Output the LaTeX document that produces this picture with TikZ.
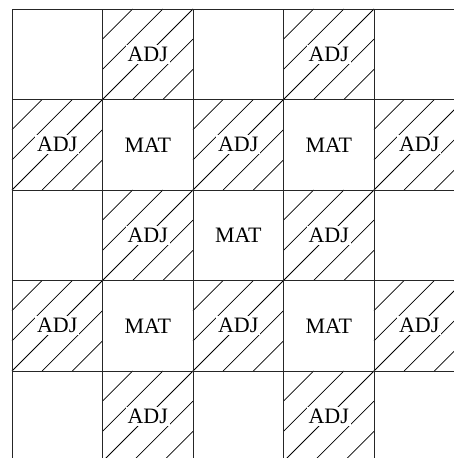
\documentclass[tikz,border=0pt]{standalone}
\usepackage{fontspec}
\setmainfont{Liberation Serif}
\begin{document}
\begin{tikzpicture}[x=1pt,y=-1pt,
  hatch/.style={line width=0.8pt, black},
  gridline/.style={line width=0.9pt, black!85},
  lab/.style={fill=white, inner sep=2pt, font=\fontsize{22}{26}\selectfont}]
\useasboundingbox (0,0) rectangle (454,458);
\clip (0,0) rectangle (454,458);
\def\s{90.5}
% hatched ADJ cells
\foreach \r/\c in {0/1,0/3,1/0,1/2,1/4,2/1,2/3,3/0,3/2,3/4,4/1,4/3} {
  \pgfmathsetmacro\X{12+\c*\s}
  \pgfmathsetmacro\Y{9+\r*\s}
  \foreach \k in {1,2,3} {
    \draw[hatch] (\X,{\Y+\k*\s/3}) -- ({\X+\k*\s/3},\Y);
  }
  \foreach \k in {1,2} {
    \draw[hatch] ({\X+\k*\s/3},{\Y+\s}) -- ({\X+\s},{\Y+\k*\s/3});
  }
  \node[lab] (adj-\r-\c) at ({\X+\s/2},{\Y+\s/2}) {ADJ};
}
% MAT cells
\foreach \r/\c in {1/1,1/3,2/2,3/1,3/3} {
  \pgfmathsetmacro\X{12+\c*\s}
  \pgfmathsetmacro\Y{9+\r*\s}
  \node[lab] (mat-\r-\c) at ({\X+\s/2},{\Y+\s/2}) {MAT};
}
% grid
\foreach \i in {0,...,5} {
  \draw[gridline] ({12+\i*\s},9) -- ({12+\i*\s},470);
  \draw[gridline] (12,{9+\i*\s}) -- (470,{9+\i*\s});
}
\end{tikzpicture}
\end{document}
